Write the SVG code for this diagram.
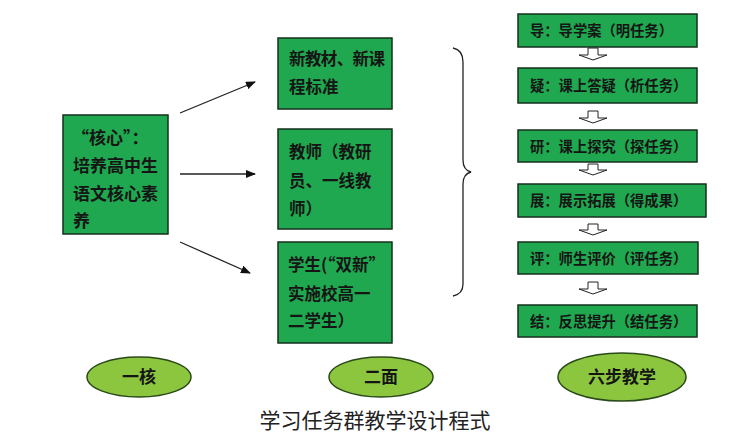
<svg xmlns="http://www.w3.org/2000/svg" width="730" height="439" viewBox="0 0 730 439">
<style>
.box{fill:#1fa84f;stroke:#16301c;stroke-width:1.5}
.ell{fill:#8cc63f;stroke:#2a4a1a;stroke-width:1.5}
.t{font-family:"Noto Sans CJK SC","Liberation Sans",sans-serif;font-weight:bold;fill:#151515}
.big{font-size:17px}
.mid{font-size:16.5px}
.sm{font-size:14.3px}
.con{stroke:#222;stroke-width:1.3;fill:none}
.blk{fill:#fff;stroke:#222;stroke-width:1}
.title{font-family:"Noto Sans CJK SC","Liberation Sans",sans-serif;font-size:21px;fill:#222}
</style>
<defs>
<marker id="ah" markerWidth="10" markerHeight="8" refX="9" refY="4" orient="auto" markerUnits="userSpaceOnUse">
<path d="M0,0 L10,4 L0,8 Z" fill="#111"/>
</marker>
</defs>
<rect width="730" height="439" fill="#fff"/>

<g id="core">
<rect class="box" x="63" y="115" width="105" height="119"/>
<text class="t big" x="72" y="144">“核心”：</text>
<text class="t big" x="73" y="172">培养高中生</text>
<text class="t big" x="73" y="200">语文核心素</text>
<text class="t big" x="73" y="227">养</text>
</g>

<g id="face1">
<rect class="box" x="278" y="38" width="114" height="71"/>
<text class="t mid" x="289" y="65" letter-spacing="-0.6">新教材、新课</text>
<text class="t mid" x="289" y="93">程标准</text>
</g>
<g id="face2">
<rect class="box" x="278" y="129" width="114" height="100"/>
<text class="t mid" x="289" y="158">教师（教研</text>
<text class="t mid" x="289" y="187">员、一线教</text>
<text class="t mid" x="289" y="215">师）</text>
</g>
<g id="face3">
<rect class="box" x="278" y="242" width="114" height="101"/>
<text class="t mid" x="288" y="271">学生(“双新”</text>
<text class="t mid" x="288" y="300">实施校高一</text>
<text class="t mid" x="288" y="327">二学生）</text>
</g>

<g id="step1"><rect class="box" x="518" y="14" width="179" height="33"/><text class="t sm" x="530" y="36">导：导学案（明任务）</text></g>
<g id="step2"><rect class="box" x="518" y="68" width="179" height="35"/><text class="t sm" x="530" y="91">疑：课上答疑（析任务）</text></g>
<g id="step3"><rect class="box" x="518" y="130" width="179" height="32"/><text class="t sm" x="530" y="152">研：课上探究（探任务）</text></g>
<g id="step4"><rect class="box" x="518" y="184" width="188" height="33"/><text class="t sm" x="530" y="206">展：展示拓展（得成果）</text></g>
<g id="step5"><rect class="box" x="518" y="242" width="180" height="32"/><text class="t sm" x="530" y="264">评：师生评价（评任务）</text></g>
<g id="step6"><rect class="box" x="518" y="305" width="179" height="32"/><text class="t sm" x="530" y="327">结：反思提升（结任务）</text></g>

<g id="ell1"><ellipse class="ell" cx="139" cy="377" rx="52" ry="20"/><text class="t big" x="139" y="383" text-anchor="middle">一核</text></g>
<g id="ell2"><ellipse class="ell" cx="381" cy="377" rx="52" ry="20"/><text class="t big" x="381" y="383" text-anchor="middle">二面</text></g>
<g id="ell3"><ellipse class="ell" cx="622" cy="377" rx="64" ry="24"/><text class="t big" x="622" y="383" text-anchor="middle">六步教学</text></g>

<g id="connectors">
<line class="con" x1="180" y1="113" x2="255" y2="82" marker-end="url(#ah)"/>
<line class="con" x1="180" y1="174" x2="255" y2="174" marker-end="url(#ah)"/>
<line class="con" x1="180" y1="242" x2="250" y2="273" marker-end="url(#ah)"/>
<path class="con" stroke-width="1.5" d="M453,48 Q463,50 463,62 L463,160 Q463,170 471,172 Q463,174 463,184 L463,284 Q463,294 453,296"/>
<path class="blk" d="M588,48 H598 V55 H607 L593,60 L579,55 H588 Z"/>
<path class="blk" d="M588,111 H598 V118 H607 L593,123 L579,118 H588 Z"/>
<path class="blk" d="M588,164 H598 V170 H607 L593,175 L579,170 H588 Z"/>
<path class="blk" d="M588,224 H598 V230 H607 L593,235 L579,230 H588 Z"/>
<path class="blk" d="M588,282 H598 V289 H607 L593,294 L579,289 H588 Z"/>
</g>

<text class="title" x="375" y="428" text-anchor="middle">学习任务群教学设计程式</text>
</svg>
